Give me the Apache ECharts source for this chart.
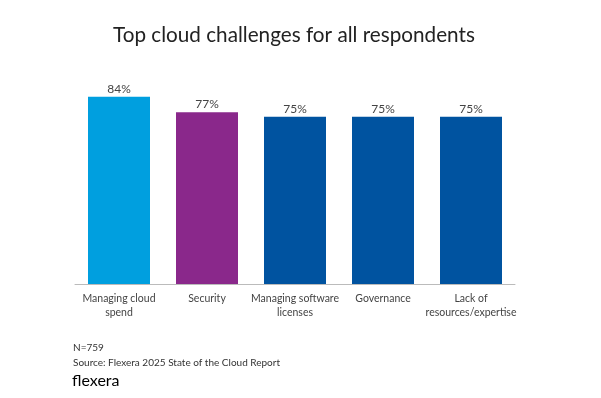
<!DOCTYPE html>
<html>
<head>
  <meta charset="utf-8">
</head>
<body style="margin: 0; width: 601px; height: 398px; background: #fff;">
  <div id="container" style="width: 601px; height: 398px;"></div>
  <script src="https://cdn.jsdelivr.net/npm/echarts@6/dist/echarts.min.js"></script>
  <script>
    var categories = ['Managing cloud\nspend', 'Security', 'Managing software\nlicenses', 'Governance', 'Lack of\nresources/expertise'];
    var values = [84, 77, 75, 75, 75];
    var barColors = ['#009fdf', '#8a288b', '#0053a0', '#0053a0', '#0053a0'];

    var chart = echarts.init(document.getElementById('container'), null, { renderer: 'canvas' });
    var font = 'Lato, "Noto Sans", sans-serif';

    var option = {
      animation: false,
      title: [{
        text: 'Top cloud challenges for all respondents',
        left: 108,
        top: 20,
        textStyle: { fontFamily: font, fontSize: 20.7, fontWeight: 'normal', color: '#222' }
      }, {
        text: 'N=759\nSource: Flexera 2025 State of the Cloud Report',
        left: 68,
        top: 335,
        textStyle: { fontFamily: font, fontSize: 10, fontWeight: 'normal', color: '#333', lineHeight: 15 }
      }, {
        text: 'flexera',
        left: 67,
        top: 368,
        textStyle: { fontFamily: font, fontSize: 16, fontWeight: 'normal', color: '#000' }
      }],
      grid: { left: 75, right: 86, top: 61, bottom: 114 },
      xAxis: {
        type: 'category',
        data: categories,
        axisLine: { lineStyle: { color: '#bbb', width: 1 } },
        axisTick: { show: false },
        axisLabel: { fontFamily: font, fontSize: 10.5, color: '#444', lineHeight: 14, margin: 8, interval: 0 }
      },
      yAxis: {
        type: 'value',
        min: 0,
        max: 100,
        show: false
      },
      series: [{
        type: 'bar',
        barWidth: 62,
        data: values.map(function (v, i) {
          return { value: v, itemStyle: { color: barColors[i] } };
        }),
        label: {
          show: true,
          position: 'top',
          distance: 2,
          formatter: '{c}%',
          fontFamily: font,
          fontSize: 12,
          color: '#444'
        }
      }]
    };

    chart.setOption(option);
  </script>
</body>
</html>
